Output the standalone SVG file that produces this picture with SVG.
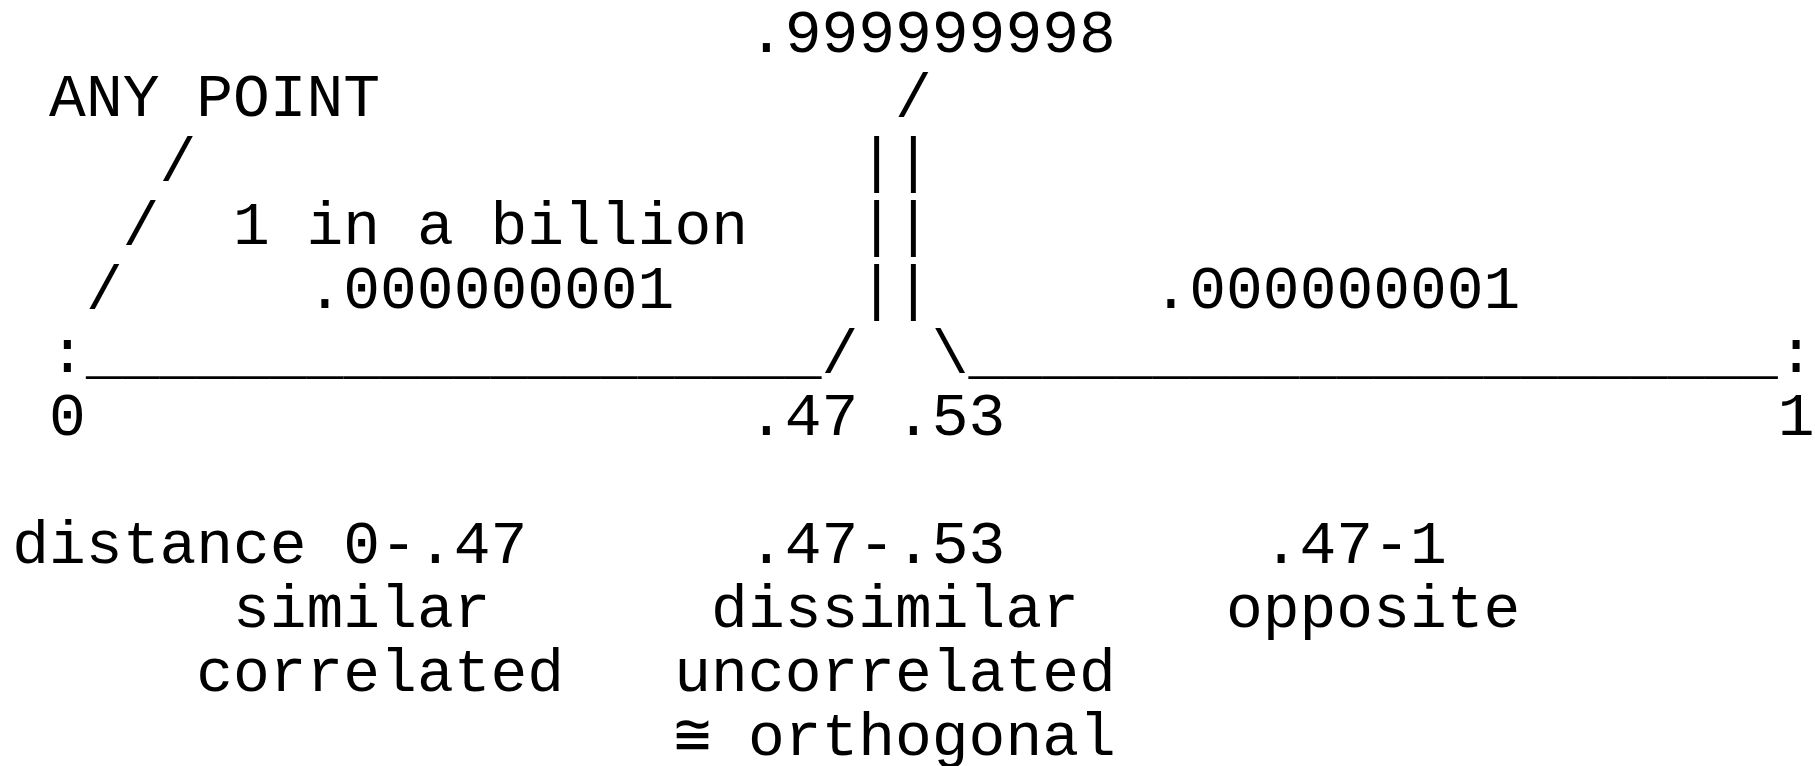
<svg xmlns="http://www.w3.org/2000/svg" width="1815" height="766" viewBox="0 0 1815 766">
<style>
text{font-family:"Liberation Mono","DejaVu Sans Mono",monospace;font-size:61.3px;fill:#000;white-space:pre}
</style>
<rect width="1815" height="766" fill="#fff"/>
<g id="node-top">
<text x="747.9" y="52">.999999998</text>
</g>
<g id="node-anypoint">
<text x="49.1" y="115.9">ANY POINT</text>
</g>
<g id="node-billion">
<text x="233.0" y="243.7">1 in a billion</text>
<text x="306.5" y="307.6">.000000001</text>
</g>
<g id="node-right-prob">
<text x="1152.5" y="307.6">.000000001</text>
</g>
<g id="node-axis-labels">
<text x="49.1" y="371.5">:</text>
<text x="1777.7" y="371.5">:</text>
<text x="49.1" y="435.4">0</text>
<text x="747.9" y="435.4">.47</text>
<text x="895.0" y="435.4">.53</text>
<text x="1777.7" y="435.4">1</text>
</g>
<g id="node-similar">
<text x="12.3" y="563.2">distance 0-.47</text>
<text x="233.0" y="627.1">similar</text>
<text x="196.2" y="691">correlated</text>
</g>
<g id="node-dissimilar">
<text x="747.9" y="563.2">.47-.53</text>
<text x="711.1" y="627.1">dissimilar</text>
<text x="674.3" y="691">uncorrelated</text>
<text x="674.3" y="754.9">≅</text>
<text x="747.9" y="754.9">orthogonal</text>
</g>
<g id="node-opposite">
<text x="1262.8" y="563.2">.47-1</text>
<text x="1226.0" y="627.1">opposite</text>
</g>
<g id="connectors">
<text x="895.0" y="115.9">/</text>
<text x="159.4" y="179.8">/</text>
<text x="122.6" y="243.7">/</text>
<text x="85.9" y="307.6">/</text>
<text x="858.2" y="179.8">||</text>
<text x="858.2" y="243.7">||</text>
<text x="858.2" y="307.6">||</text>
<text x="85.9" y="371.5">____________________/</text>
<text x="931.8" y="371.5">\______________________</text>
</g>
</svg>
